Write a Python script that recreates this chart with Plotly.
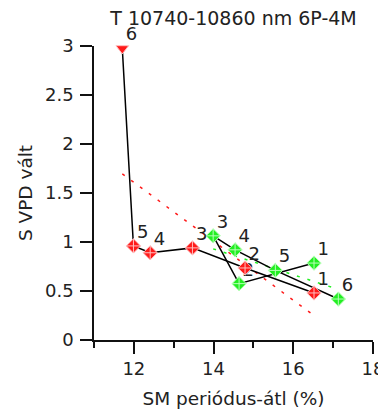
import numpy as np
import plotly.graph_objects as go

# point labels (period numbers)
red_labels = ["1", "2", "3", "4", "5", "6"]
red_x = [16.52, 14.79, 13.47, 12.41, 11.99, 11.71]
red_y = [0.48, 0.735, 0.94, 0.89, 0.96, 2.975]
red_symbols = ["diamond-cross"] * 5 + ["triangle-down"]

green_labels = ["1", "2", "3", "4", "5", "6"]
green_x = [16.52, 14.64, 13.99, 14.54, 15.55, 17.13]
green_y = [0.785, 0.575, 1.063, 0.92, 0.71, 0.418]

title_text = "T 10740-10860 nm 6P-4M"
x_title = "SM periódus-átl (%)"
y_title = "S VPD vált"

FONT = "DejaVu Sans"
TXT = "#222222"
RED = "#ff1a1a"
GREEN = "#22ee22"

# the page body adds an 8px offset, margins are compensated for it
OFF = 8


def fit_line(xs, ys):
    xs = np.array(xs)
    ys = np.array(ys)
    k, b = np.polyfit(xs, ys, 1)
    xr = np.array([xs.min(), xs.max()])
    return xr, k * xr + b


fig = go.Figure()

# regression lines
rx, ry = fit_line(red_x, red_y)
fig.add_trace(go.Scatter(x=rx, y=ry, mode="lines",
                         line=dict(color=RED, width=1.5, dash="3px,8px"),
                         hoverinfo="skip", showlegend=False))
gx, gy = fit_line(green_x, green_y)
fig.add_trace(go.Scatter(x=gx, y=gy, mode="lines",
                         line=dict(color=GREEN, width=1.5, dash="3px,8px"),
                         hoverinfo="skip", showlegend=False))

# green series: black connecting line + green markers
fig.add_trace(go.Scatter(x=green_x, y=green_y, mode="lines+markers",
                         line=dict(color="black", width=1.5),
                         marker=dict(symbol="diamond-cross", size=11, color=GREEN,
                                     line=dict(color="#b8ffb8", width=1)),
                         cliponaxis=False, showlegend=False))
fig.add_trace(go.Scatter(x=green_x, y=green_y, mode="markers+text",
                         text=green_labels, textposition="top right",
                         textfont=dict(family=FONT, size=18, color=TXT),
                         marker=dict(size=4, opacity=0),
                         cliponaxis=False, showlegend=False, hoverinfo="skip"))

# red series
fig.add_trace(go.Scatter(x=red_x, y=red_y, mode="lines+markers",
                         line=dict(color="black", width=1.5),
                         marker=dict(symbol=red_symbols, size=11, color=RED,
                                     line=dict(color="#ffc0c0", width=1)),
                         cliponaxis=False, showlegend=False))
fig.add_trace(go.Scatter(x=red_x, y=red_y, mode="markers+text",
                         text=red_labels, textposition="top right",
                         textfont=dict(family=FONT, size=18, color=TXT),
                         marker=dict(size=4, opacity=0),
                         cliponaxis=False, showlegend=False, hoverinfo="skip"))

fig.update_layout(
    width=386, height=415,
    margin=dict(l=94 - OFF, r=13 + OFF, t=46 - OFF, b=75 + OFF),
    paper_bgcolor="white", plot_bgcolor="white",
    font=dict(family=FONT, size=18, color=TXT),
    title=dict(text=title_text, x=0.5, xref="paper", y=1 - (18 - OFF) / 415,
               yref="container", yanchor="middle", xanchor="center",
               font=dict(family=FONT, size=19, color=TXT)),
    xaxis=dict(range=[11, 18], tick0=12, dtick=2, ticks="outside", ticklen=12,
               tickwidth=1.5, tickcolor="#111", showline=True, linecolor="#111",
               linewidth=1.5, showgrid=False, zeroline=False, automargin=False,
               ticklabelstandoff=0,
               minor=dict(dtick=1, ticks="outside", ticklen=6, tickwidth=1.5,
                          tickcolor="#111", showgrid=False),
               title=dict(text=x_title, standoff=14,
                          font=dict(family=FONT, size=18.5, color=TXT))),
    yaxis=dict(range=[0, 3], dtick=0.5, ticks="outside", ticklen=12,
               tickwidth=1.5, tickcolor="#111", showline=True, linecolor="#111",
               linewidth=1.5, showgrid=False, zeroline=False, automargin=False,
               ticklabelstandoff=3,
               title=dict(text=y_title, standoff=8,
                          font=dict(family=FONT, size=18.5, color=TXT))),
)

fig.write_html("out.html")
